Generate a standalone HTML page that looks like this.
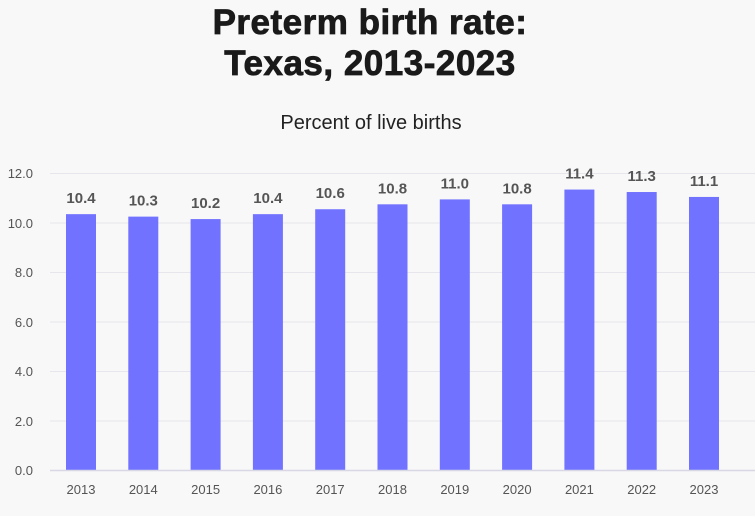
<!DOCTYPE html>
<html><head><meta charset="utf-8"><style>
body{margin:0;background:#f8f8f9;}
svg{display:block;font-family:"Liberation Sans",sans-serif;}
</style></head><body>
<svg width="755" height="516" viewBox="0 0 755 516" xmlns="http://www.w3.org/2000/svg">
<rect width="755" height="516" fill="#f8f8f9"/>
<text x="370" y="34" text-anchor="middle" font-size="35" font-weight="bold" fill="#1a1a1a" stroke="#1a1a1a" stroke-width="0.8" letter-spacing="0.5">Preterm birth rate:</text>
<text x="370" y="75" text-anchor="middle" font-size="35" font-weight="bold" fill="#1a1a1a" stroke="#1a1a1a" stroke-width="0.8" letter-spacing="0.5">Texas, 2013-2023</text>
<text x="371" y="129" text-anchor="middle" font-size="20" fill="#222">Percent of live births</text>
<g stroke="#e6e6ec" stroke-width="1">
<line x1="50" x2="755" y1="173.5" y2="173.5"/>
<line x1="50" x2="755" y1="223" y2="223"/>
<line x1="50" x2="755" y1="272.5" y2="272.5"/>
<line x1="50" x2="755" y1="322" y2="322"/>
<line x1="50" x2="755" y1="371.5" y2="371.5"/>
<line x1="50" x2="755" y1="421" y2="421"/>
</g>
<g font-size="13" fill="#555" text-anchor="end">
<text x="33" y="178">12.0</text><text x="33" y="228">10.0</text><text x="33" y="277">8.0</text><text x="33" y="327">6.0</text><text x="33" y="376">4.0</text><text x="33" y="426">2.0</text><text x="33" y="475">0.0</text>
</g>
<g id="bars" fill="#7172ff"></g>
<line x1="50" x2="755" y1="470.5" y2="470.5" stroke="#d8d8e4" stroke-width="1.5"/>
<g id="lbl"></g>
</svg>
<script>
var v=[10.4,10.3,10.2,10.4,10.6,10.8,11.0,10.8,11.4,11.3,11.1];
var b=document.getElementById('bars'),l=document.getElementById('lbl'),ns="http://www.w3.org/2000/svg";
v.forEach(function(d,i){
 var cx=81+i*62.3,h=d*24.6,y=470-h;
 var r=document.createElementNS(ns,'rect');r.setAttribute('x',cx-15);r.setAttribute('y',y);r.setAttribute('width',30);r.setAttribute('height',h);b.appendChild(r);
 var t=document.createElementNS(ns,'text');t.setAttribute('x',cx);t.setAttribute('y',y-11);t.setAttribute('text-anchor','middle');t.setAttribute('font-size','15');t.setAttribute('font-weight','bold');t.setAttribute('fill','#555');t.textContent=d.toFixed(1);l.appendChild(t);
 var u=document.createElementNS(ns,'text');u.setAttribute('x',cx);u.setAttribute('y',494);u.setAttribute('text-anchor','middle');u.setAttribute('font-size','13');u.setAttribute('fill','#555');u.textContent=2013+i;l.appendChild(u);
});
</script>
</body></html>
